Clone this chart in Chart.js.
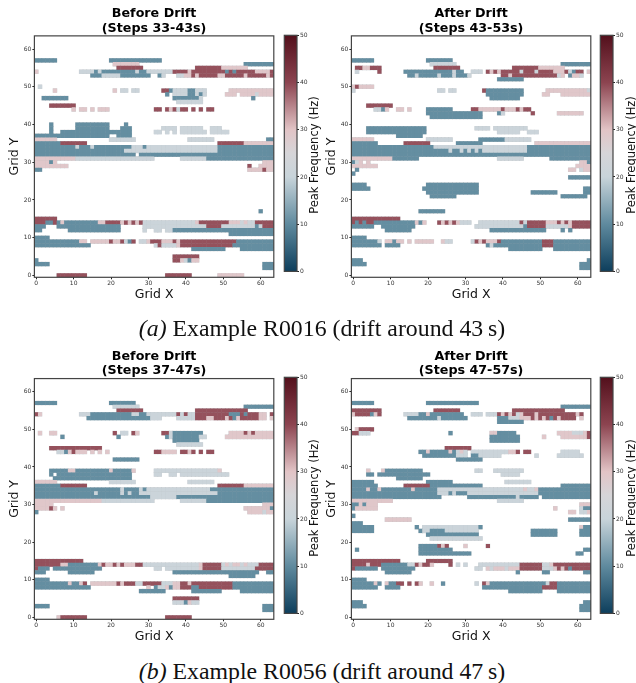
<!DOCTYPE html>
<html>
<head>
<meta charset="utf-8">
<title>Peak frequency maps</title>
<script src="https://cdn.jsdelivr.net/npm/chart.js@4/dist/chart.umd.js"></script>
<style>
  html, body { margin: 0; padding: 0; background: #fff; }
  #page { position: relative; width: 636px; height: 683px; overflow: hidden; }
  canvas { position: absolute; }
  .caption { position: absolute; left: 0; width: 644px; text-align: center; color: #111;
    font: 23.8px "Liberation Serif", serif; white-space: nowrap; }
  .cbLabel { position: absolute; width: 240px; text-align: center; color: #111;
    font: 11.5px "DejaVu Sans", sans-serif; transform: rotate(-90deg); white-space: nowrap; }
</style>
</head>
<body>
<div id="page"></div>
<script>
// tick labels
const gridTicks = [0, 10, 20, 30, 40, 50, 60];
const freqTicks = [0, 10, 20, 30, 40, 50];

// peak frequency (Hz) of each colour class seen in the maps
const levelHz = { b: 10.5, g: 21, p: 29, r: 39 };

// colormap
const cmapHz = [0, 10, 20, 25, 30, 40, 50];
const cmapColors = ['#0d3e5c', '#5f8a9e', '#c8d4da', '#d6d5d8', '#e2c4c6', '#8c4450', '#53101c'];

// rows are [grid y, runs of cells], a run is class + x range
const r0016Before = [
  [57, 'b0-5 b20-33'],
  [56, 'p21-27 b56-63'],
  [55, 'r22-28 r43-49 p50-56'],
  [54, 'p0 g12-15 b16 g17 b18-26 g27 b28-29 g30-36 r37-40 p41 r42-50 b51 r52 b53 r54-58 p59-62 r63'],
  [53, 'b15-17 g18-22 b23-30 b33 g34 g38-39 p40-41 r42 p43 r44-48 p49-50 r51-55 p56 r57-61 p62 r63'],
  [50, 'g1'],
  [49, 'p5 p21 g23-24 g26-27 r34-35 b36 g37-40 b41-42 g43-45 p52-63'],
  [48, 'b35 g37-40 b41-42 g43 b44 g45 p51-53 p55-58 g59 p60-63'],
  [47, 'b2-8 b37-43 g44 b58'],
  [46, 'g38-44'],
  [45, 'r4-10'],
  [44, 'p10 p12-13 p15 p17-19 r32-33 r35 p36 r37 g38 r39-40 r42 r44 r46-47'],
  [40, 'b4 b11-19 b24'],
  [39, 'b4 b11-19 b23-25 g34-37 g39-44 g47-49'],
  [38, 'b4 b7-25 g32-33 g35 g37 g39-45 g47-51'],
  [37, 'b0-19 b22-25'],
  [36, 'p0-5 g20-26 g41-47 b62-63'],
  [35, 'b0-6 r7-13 r49-55 p56-63'],
  [34, 'b0-10 g11 b12-14 g15 b16-25 g26-28 b29 g30-48 b49-63'],
  [33, 'b0-23 g24-48 b49-63'],
  [32, 'b0-26 b28-63'],
  [31, 'p0-10 g11-31 g39-45 b46-63'],
  [30, 'p0-3 b4 p5 p61-63'],
  [29, 'p0-8 r57 p60-63'],
  [28, 'b0-1 p57-60 r61 p62-63'],
  [17, 'b60'],
  [15, 'r0-5'],
  [14, 'r0-2 b3-4 r5 b6 p7 b8-16 p17-18 r19-22 p23 r24 p25 r26 p27 r28 g29-42 p43 r44-51 p52-54 g55 p56 g57-58 r59-63'],
  [13, 'b0-2 b6-22 g29-45 r46-49 g50-58 b59 g60 r61-63'],
  [12, 'b0-1 b9-22 g29 g32-33 g35-36 b37-63'],
  [11, 'b52-63'],
  [10, 'b0-3'],
  [9, 'b0-11 p12-13 p15-19 r20 p21-22 r23 g24 b25 r26 g28-29 p30 r31-33 p34-36 r37 p38 r39-53 b54-63'],
  [8, 'b0-14 g32 r33 g34-37 p38 r39-52 b53-63'],
  [7, 'b42-50 b55-63'],
  [5, 'r37-43'],
  [4, 'b0 r37-38 p39 g40 b41 p42-43'],
  [3, 'b0-3 b61-63'],
  [2, 'b61-63'],
  [0, 'r6-13 r35-41 p49-55']
];

const r0016After = [
  [57, 'b0-5 b20-26'],
  [56, 'g21-27 b56-63'],
  [55, 'r1-2 p3-4 r5-7 r22-28 r43-49 p50-56'],
  [54, 'g1 r7 b14-26 g27 b28-29 g32-34 r36 p37 r38 p39 r40-44 g45 r46-48 g49 r50-53 p54-56 r57 g58 b59 r60-61 p63'],
  [53, 'b15-16 g17 b18-22 g23 b24-26 g27 b28-30 g31 r40-41 p42 r43-54 g55 p56 b58 p59-60 g61'],
  [52, 'b39-45'],
  [50, 'p0 r1 p2-5'],
  [49, 'g0 g23-24 g26-27 r35 b36-45 p52-62 g63'],
  [48, 'b36-45 p51-52 p56-63'],
  [47, 'b37-44'],
  [45, 'r4-10'],
  [44, 'g6-7 b8 p9 p12-13 p15 b20-26 r32-33 p34-39 r40 p41-43 r44 p45 r46-47'],
  [43, 'b20-34 b39 g40 r48 p55-61'],
  [42, 'b21-34'],
  [39, 'b4-19 g33-36 g38-46'],
  [38, 'b4-19 g39-44 g47-49'],
  [37, 'b12-18'],
  [36, 'p0-5 g20-26 b34-40 g41-47'],
  [35, 'b0-6 r14-20 b28-34 p49-63'],
  [34, 'b0-21 g22-46 b47-63'],
  [33, 'b0-25 g26 b27-28 g29 b30 g31 b32 g33 b34 g35-46 b47-63'],
  [32, 'b0-63'],
  [31, 'p0-10 b11-17 g39-45 b53-63'],
  [30, 'b0 g1 p2 p4 p61-62 b63'],
  [29, 'p0-6 p60-63'],
  [28, 'b1 p58-59 g61 p62-63'],
  [27, 'b0'],
  [26, 'b58-63'],
  [24, 'b0-3 b20-33'],
  [23, 'b0-4 b19-33 b62-63'],
  [22, 'b20-33 b48-54 b62-63'],
  [21, 'b21-27 b56-62'],
  [17, 'b18-24'],
  [15, 'r0-12'],
  [14, 'r0 b1 r2 b3 r4-5 b6-16 p17 b18 p19 r23 p24 r25 p26 r27 p28 g29-31 g34-44 r45 g46 r47-51 p52-54 r55 p56 r57 p58 r59-63'],
  [13, 'b0-5 b8-16 g33 g34-45 b46 r47-51 g52-57 p58 r59-63'],
  [12, 'b9-15 b37-51 b56 b58'],
  [10, 'b0-3'],
  [9, 'b0-6 g7 p9-10 b11 p12-13 p15 p17-21 p24 g25-26 g32 r33 p34 r35 p36-38 r39 b40-50 r51-53 b54-63'],
  [8, 'b0-7 b9-12 b36 g37 b38-50 r51-53 b54-63'],
  [7, 'b42-50 b54-63'],
  [4, 'b0-2 b63'],
  [3, 'b0-3 b61-63'],
  [2, 'b61-63']
];

const r0056Before = [
  [57, 'b0-5 b20-26'],
  [56, 'g21-27 b56-63'],
  [55, 'r22-28 r43-56'],
  [54, 'r0 p1 g12-14 b15-25 g26-27 b28-29 g30-37 r38 g39 r40 g41-42 r43-51 b52-54 r55 b56 r57-59 p60-61 r63'],
  [53, 'b14-30 g31-33 g38-42 r43-45 p46-47 r48-50 p51 r52 b53 p54 r55-59 p60-61 p63'],
  [49, 'p1 p4-5 r21 g23-24 r26 p27 r34-35 g36 b37-44 p52-55 r56 p57 r58 p59-63'],
  [48, 'b7 b22 b35 g36 b37-43 g44-45 p51-63'],
  [47, 'b37-43'],
  [46, 'g38-44'],
  [45, 'r4-17'],
  [44, 'g6-7 b8 p9 r10 p11-13 p15 p17 p19 r32-33 p34-37 r39-40 p41 r42 r44 r46-47'],
  [42, 'b21-27'],
  [39, 'b4-8 p9-10 b11-19 p20 b21-25 p26 g32-48 p49'],
  [38, 'b4 b6-25 g32-33 g36-37 g39-51'],
  [37, 'b5-25'],
  [36, 'p0-5 g20-26 g41-47'],
  [35, 'b0-6 r7-13 r49-55 p56-63'],
  [34, 'b0-22 g23 b24-27 g28 b29 g30-46 b47-63'],
  [33, 'b0-15 g16 b17-22 g23 b24 g25 b26-27 g28-48 b49-63'],
  [32, 'b0-30 g31-37 b38-63'],
  [31, 'p0-17 g18-31 g39-45 b46-63'],
  [30, 'p0-4 p61-63'],
  [29, 'p0-3 r4 p5 p7 p56-62 b63'],
  [28, 'b0 p57-60 g61 p62-63'],
  [15, 'r0-12'],
  [14, 'r0-6 p7-8 b9-16 p17 r18 p19-20 r21 p22 r23 p24-25 p26 r27-28 g29-43 p44 r45-49 g50 p51 g52 p53-54 g55 p56 g57-58 g59 r60-63'],
  [13, 'r0 b1-3 b5 b6-17 g32-33 g35-43 p44 r45-49 g50-58 r59-63'],
  [12, 'b0-2 b9-15 b37-59 b62-63'],
  [11, 'b52-58'],
  [10, 'b0-3'],
  [9, 'b0-8 p9 b10-11 p12 r13 p15-21 r22 p23 r24-26 g27-28 r29-33 g34-36 p37-38 r39-40 p41 r42-52 b53-63'],
  [8, 'b0-14 p30 b32 g33-34 p35 b36 p37-38 r39-41 b42-43 r44-52 b53-63'],
  [7, 'b28-34 b42-49 b55-63'],
  [5, 'r37-43'],
  [4, 'g37-39 b40 p41 g42-43'],
  [3, 'b0-3 b61-63'],
  [2, 'b61-63'],
  [0, 'p6 r7-13 r35-41']
];

const r0056After = [
  [57, 'b0-5 b20-33'],
  [56, 'b56-63'],
  [55, 'r0-7 r22-28 r43-56'],
  [54, 'p0 r1-4 b5 p6 r7 g14-17 b18-19 p20 b21-29 g32-34 g36-38 r39 p40 r41 p42 r43 g44 p45 r46-48 p49 r50-59 p60 r61'],
  [53, 'b15-22 g23 b24-30 b39-41 g42-44 p45-47 r48 p49 r50 p51 r52 b53 r54 p55 r56-59 p61'],
  [52, 'b39-45'],
  [50, 'p1 r2-5'],
  [49, 'r0-1 g2-4 b26 p37-38 b39-43 p55-58 g59-61 p62 r63'],
  [48, 'b37-44 p51 p56-62 r63'],
  [47, 'b37-44'],
  [45, 'r25-31'],
  [44, 'b18-19 p20 b21-25 p26 b27 g28 p29 g30 g32-41 p42-43 r44 r46-47 g56-60'],
  [43, 'b19-27 g28-30 b32-33 g34-39 g49 g55-61'],
  [42, 'b28-34'],
  [39, 'p4 p8 b9-18 g33-34 g38-45'],
  [38, 'b4-5 b7-20 g40-44'],
  [37, 'b12-18'],
  [36, 'b0-5 b20-26 g41-47'],
  [35, 'b0-6 r14-20 b21-34 b56-63'],
  [34, 'b0-3 p4 b5-6 p7 b8-15 p16 b17-22 g23-45 p46 g47-48 p49 b50-63'],
  [33, 'b0-22 g23-25 b26 g27 b28-29 b30 g31-49 b50-63'],
  [32, 'b0-23 b31-43 g44 b45-49 b51-63'],
  [31, 'p0-10 g39-45'],
  [30, 'b0-1 p2 b3 p4-6 p61-63'],
  [29, 'b0 p1-6 p54 g61 b62-63'],
  [28, 'p58-59 g61-62 p63'],
  [27, 'b0'],
  [26, 'p9-15 b58-63'],
  [25, 'b0-2'],
  [24, 'b0-5 b17 g19-33 b34 p61 b62-63'],
  [23, 'b0-5 b18 g19-20 b21-24 g25-33 b48-54 b61-63'],
  [22, 'b20-33 b48-54 b61-63'],
  [21, 'g21-34'],
  [19, 'b18-22 r23 p24 r25 p30 r36'],
  [18, 'b1 b18-26 b62-63'],
  [17, 'b18-31 b60-61'],
  [15, 'r0-12 r20-26'],
  [14, 'r0-3 p4 r5-7 b8-14 g15-16 r17 p18 r19-20 p21 r26 g28 g30 g34-44 r45-50 g51-52 p53 r54-63'],
  [13, 'r0 b1-6 b8-16 g33-34 p36 g37 p38-40 g41 p42-44 r45-50 g51-53 p54 r55 p56 r57 b58 r59-63'],
  [12, 'b9-15 b44 b51-52 b62-63'],
  [10, 'b0-3'],
  [9, 'b0-5 p6 b7 p9 b10-11 r12-13 r15 r17 p18 p21 b24 g33 r35 p36 b37-51 g52 r53-54 b55-63'],
  [8, 'b0-6 b9-12 b35-50 r51-54 b55-63'],
  [7, 'b42-50 b55-63'],
  [4, 'b0-2 b62-63'],
  [3, 'b0-3 b61-63'],
  [2, 'b61-63']
];

// panel and caption texts
const panelTitles = ['Before Drift', 'After Drift'];
const stepsTop = ['(Steps 33-43s)', '(Steps 43-53s)'];
const stepsBottom = ['(Steps 37-47s)', '(Steps 47-57s)'];

const page = document.getElementById('page');

function colorFor(hz) {
  let i = 0;
  while (i < cmapHz.length - 2 && hz > cmapHz[i + 1]) i++;
  const t = (hz - cmapHz[i]) / (cmapHz[i + 1] - cmapHz[i]);
  const a = parseInt(cmapColors[i].slice(1), 16);
  const b = parseInt(cmapColors[i + 1].slice(1), 16);
  const mix = (shift) => Math.round(((a >> shift) & 255) * (1 - t) + ((b >> shift) & 255) * t);
  return `rgb(${mix(16)},${mix(8)},${mix(0)})`;
}

function toCells(rows) {
  const cells = [];
  rows.forEach(([y, runs]) => {
    runs.split(' ').forEach((run) => {
      const m = run.match(/^([bgpr])(\d+)(?:-(\d+))?$/);
      const from = +m[2];
      const to = m[3] ? +m[3] : from;
      for (let x = from; x <= to; x++) cells.push({ x, y, hz: levelHz[m[1]] });
    });
  });
  return cells;
}

function addCanvas(left, top, width, height) {
  const canvas = document.createElement('canvas');
  canvas.width = width;
  canvas.height = height;
  canvas.style.cssText = `left:${left}px;top:${top}px;width:${width}px;height:${height}px`;
  page.appendChild(canvas);
  return canvas.getContext('2d');
}

const framePlugin = {
  id: 'frame',
  afterDatasetsDraw(chart) {
    const { left, top, width, height } = chart.chartArea;
    const ctx = chart.ctx;
    ctx.save();
    ctx.strokeStyle = '#444';
    ctx.lineWidth = 1.2;
    ctx.strokeRect(left, top, width, height);
    ctx.restore();
  }
};

function gridAxis(label, isY) {
  return {
    type: 'linear',
    min: -0.5,
    max: 63.5,
    afterBuildTicks: (scale) => { scale.ticks = gridTicks.map((value) => ({ value })); },
    afterFit: (scale) => {
      if (isY) scale.width = 34.4;
      else scale.height = 24.7;
    },
    grid: { drawOnChartArea: false, tickLength: 2, color: '#222' },
    border: { display: false },
    ticks: {
      font: { family: 'DejaVu Sans', size: 6 },
      color: '#333',
      padding: 1,
      maxRotation: 0,
      autoSkip: false
    },
    title: {
      display: true,
      text: label,
      font: { family: 'DejaVu Sans', size: 12.5 },
      color: '#111',
      padding: isY ? { top: 7.5, bottom: 0 } : { top: 3, bottom: 0 }
    }
  };
}

function drawPanel(left, top, titleLines, titleTop, rows) {
  const cells = toCells(rows);
  new Chart(addCanvas(left, top, 282, 302), {
    type: 'scatter',
    data: {
      datasets: [
        {
          // cells, on a soft grey edge like the resampled image in the figure
          data: cells,
          pointStyle: 'rect',
          pointRadius: 2.92,
          pointBorderWidth: 0,
          pointBackgroundColor: cells.map((c) => colorFor(c.hz)),
          order: 1
        },
        {
          data: cells,
          pointStyle: 'rect',
          pointRadius: 3.2,
          pointBorderWidth: 0,
          pointBackgroundColor: 'rgba(110,120,125,0.35)',
          order: 2
        }
      ]
    },
    options: {
      responsive: false,
      animation: false,
      events: [],
      layout: { padding: { left: 0, right: 8.2, top: 0, bottom: 0 } },
      plugins: {
        legend: { display: false },
        tooltip: { enabled: false },
        title: {
          display: true,
          text: titleLines,
          fullSize: false,
          color: '#000',
          font: { family: 'DejaVu Sans', size: 12.7, weight: 'bold', lineHeight: 1.125 },
          padding: { top: titleTop, bottom: 0.3 }
        }
      },
      scales: { x: gridAxis('Grid X', false), y: gridAxis('Grid Y', true) }
    },
    plugins: [framePlugin]
  });
}

function drawColorbar(left, top, height) {
  new Chart(addCanvas(left, top, 30, height), {
    type: 'bar',
    data: {
      labels: ['Hz'],
      datasets: [{
        data: [[freqTicks[0], freqTicks[freqTicks.length - 1]]],
        barPercentage: 1,
        categoryPercentage: 1,
        backgroundColor: (c) => {
          const area = c.chart.chartArea;
          if (!area) return '#888';
          const g = c.chart.ctx.createLinearGradient(0, area.bottom, 0, area.top);
          cmapHz.forEach((hz, i) => g.addColorStop(hz / 50, cmapColors[i]));
          return g;
        }
      }]
    },
    options: {
      responsive: false,
      animation: false,
      events: [],
      layout: { padding: { left: 4.3, right: 0, top: 35.3, bottom: 0.3 } },
      plugins: { legend: { display: false }, tooltip: { enabled: false } },
      scales: {
        x: { display: false },
        y: {
          position: 'right',
          min: 0,
          max: 50,
          afterBuildTicks: (scale) => { scale.ticks = freqTicks.map((value) => ({ value })); },
          afterFit: (scale) => { scale.width = 13; },
          grid: { drawOnChartArea: false, tickLength: 2, color: '#222' },
          border: { display: false },
          ticks: { font: { family: 'DejaVu Sans', size: 6 }, color: '#333', padding: 1 }
        }
      }
    },
    plugins: [framePlugin]
  });
}

function addCaption(top, mark, text) {
  const div = document.createElement('div');
  div.className = 'caption';
  div.style.top = top + 'px';
  const i = document.createElement('i');
  i.textContent = mark;
  div.appendChild(i);
  div.appendChild(document.createTextNode(text));
  page.appendChild(div);
}

function addColorbarLabel(centerX, centerY) {
  const div = document.createElement('div');
  div.className = 'cbLabel';
  div.textContent = 'Peak Frequency (Hz)';
  div.style.left = (centerX - 120) + 'px';
  div.style.top = (centerY - 7) + 'px';
  page.appendChild(div);
}

drawPanel(0, 0, [panelTitles[0], stepsTop[0]], 7, r0016Before);
drawPanel(317, 0, [panelTitles[1], stepsTop[1]], 7, r0016After);
drawPanel(0, 342, [panelTitles[0], stepsBottom[0]], 7.7, r0056Before);
drawPanel(317, 342, [panelTitles[1], stepsBottom[1]], 7.7, r0056After);

drawColorbar(280, 0, 276);
drawColorbar(596, 0, 276);
drawColorbar(280, 342, 276);
drawColorbar(596, 342, 276);

addColorbarLabel(314, 155);
addColorbarLabel(631, 155);
addColorbarLabel(314, 498);
addColorbarLabel(631, 498);

addCaption(315, '(a)', ' Example R0016 (drift around 43\u2009s)');
addCaption(658, '(b)', ' Example R0056 (drift around 47\u2009s)');
</script>
</body>
</html>
